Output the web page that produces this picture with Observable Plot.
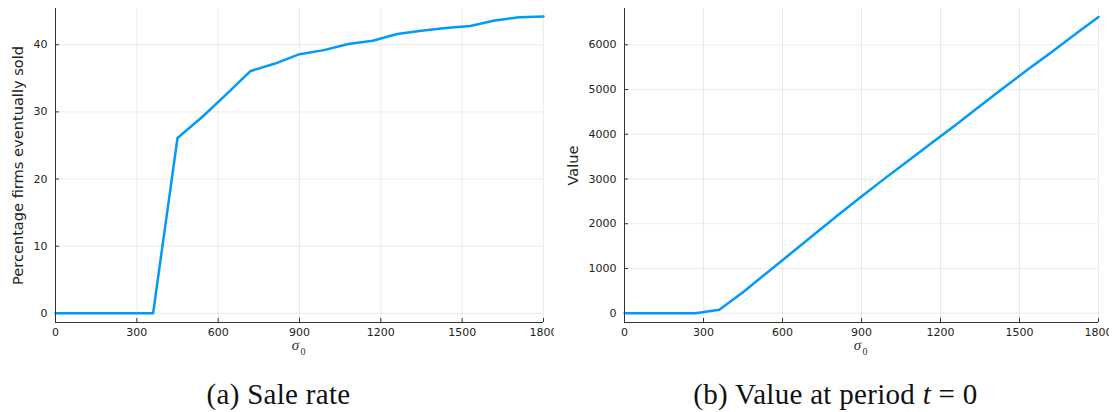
<!DOCTYPE html>
<html>
<head>
<meta charset="utf-8">
<script src="https://cdn.jsdelivr.net/npm/d3@7"></script>
<script src="https://cdn.jsdelivr.net/npm/@observablehq/plot@0.6"></script>
<style>
  body { margin: 0; background: #fff; }
  #fig { position: relative; width: 1114px; height: 412px; overflow: hidden; background: #fff; }
  .panel { position: absolute; top: 0; }
  .panel svg { overflow: hidden; }
  .cap {
    position: absolute; top: 380px; width: 557px; text-align: center;
    font-family: "Liberation Serif", serif; font-size: 29px; line-height: 29px; color: #111;
    letter-spacing: 0.3px;
  }
</style>
</head>
<body>
<div id="fig">
  <div class="panel" id="pa" style="left:0"></div>
  <div class="panel" id="pb" style="left:557px"></div>
  <div class="cap" style="left:0">(a) Sale rate</div>
  <div class="cap" style="left:557px">(b) Value at period <i>t</i> = 0</div>
</div>
<script>
// Initial dispersion sigma_0 on the grid used by the model
const sigma = [0, 90, 180, 270, 360, 450, 540, 630, 720, 810, 900, 990, 1080, 1170, 1260, 1350, 1440, 1530, 1620, 1710, 1800];
// Share of firms eventually sold (%)
const saleRate = [0, 0, 0, 0, 0, 26.1, 29.2, 32.6, 36.1, 37.2, 38.6, 39.2, 40.1, 40.6, 41.6, 42.1, 42.5, 42.8, 43.6, 44.1, 44.2];
// Value at period t = 0
const valueT0 = [0, 0, 0, 0, 75, 470, 900, 1330, 1760, 2190, 2610, 3020, 3420, 3820, 4220, 4630, 5040, 5440, 5830, 6230, 6620];

const xTicks = [0, 300, 600, 900, 1200, 1500, 1800];
const saleTicks = [0, 10, 20, 30, 40];
const valueTicks = [0, 1000, 2000, 3000, 4000, 5000, 6000];

const lineColor = "#009AFA";
const axisColor = "#333";

function panel({width, marginLeft, marginRight, values, yDomain, yTicks, yLabel, labelDx}) {
  const data = sigma.map((s, i) => ({s, v: values[i]}));
  const grid = {stroke: "#000", strokeOpacity: 0.08, strokeWidth: 1};
  return Plot.plot({
    width, height: 360,
    marginTop: 8, marginBottom: 38, marginLeft, marginRight,
    style: {fontFamily: "DejaVu Sans, sans-serif", fontSize: "11px", color: "#222", background: "white", overflow: "hidden"},
    x: {domain: [0, 1800]},
    y: {domain: yDomain},
    marks: [
      Plot.gridX(xTicks, grid),
      Plot.gridY(yTicks, grid),
      // inward tick marks
      Plot.axisX(xTicks, {tickSize: 4, dy: -4, tickFormat: () => "", label: null, stroke: axisColor}),
      Plot.axisY(yTicks, {tickSize: 4, dx: 4, tickFormat: () => "", label: null, stroke: axisColor}),
      // tick labels
      Plot.axisX(xTicks, {tickSize: 0, tickPadding: 6, tickFormat: d => String(d), label: null}),
      Plot.axisY(yTicks, {tickSize: 0, tickPadding: 8, tickFormat: d => String(d), label: null}),
      Plot.line(data, {x: "s", y: "v", stroke: lineColor, strokeWidth: 2.5}),
      Plot.ruleX([0], {stroke: axisColor, strokeWidth: 1}),
      Plot.ruleY([yDomain[0]], {stroke: axisColor, strokeWidth: 1}),
      // axis titles
      Plot.text([yLabel], {frameAnchor: "left", textAnchor: "middle", lineAnchor: "middle", dx: labelDx, rotate: -90,
        fontSize: 14.6, fill: "#222", text: d => d}),
      Plot.text(["σ"], {frameAnchor: "bottom", textAnchor: "middle", lineAnchor: "middle", dx: -4, dy: 23, fontSize: 15,
        fontStyle: "italic", fontFamily: "Liberation Serif, serif", fill: "#333", text: d => d}),
      Plot.text(["0"], {frameAnchor: "bottom", textAnchor: "middle", lineAnchor: "middle", dx: 3.5, dy: 29, fontSize: 10,
        fontFamily: "Liberation Serif, serif", fill: "#333", text: d => d})
    ]
  });
}

document.getElementById("pa").append(panel({
  width: 554, marginLeft: 55, marginRight: 11,
  values: saleRate, yDomain: [-1.37, 45.4], yTicks: saleTicks,
  yLabel: "Percentage firms eventually sold", labelDx: -37
}));
document.getElementById("pb").append(panel({
  width: 552, marginLeft: 67, marginRight: 11,
  values: valueT0, yDomain: [-208, 6812], yTicks: valueTicks,
  yLabel: "Value", labelDx: -51
}));
</script>
</body>
</html>
